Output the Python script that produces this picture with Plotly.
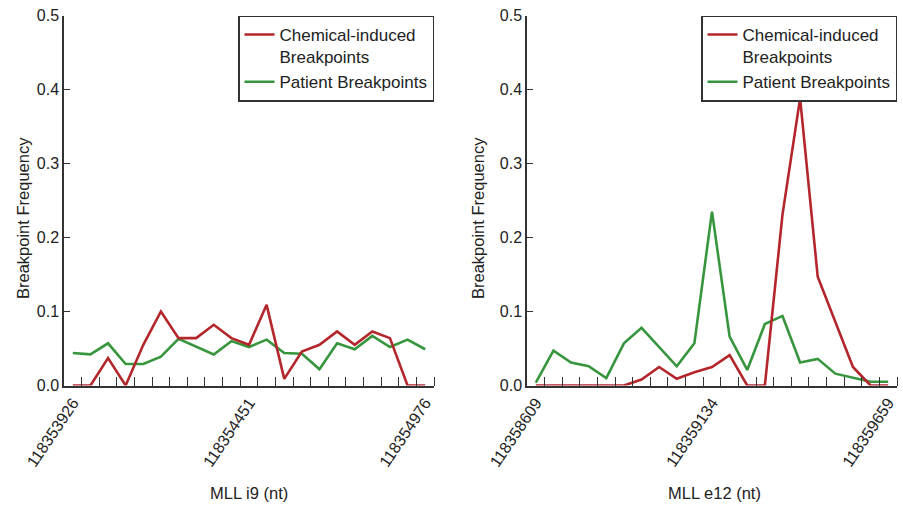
import plotly.graph_objects as go

# ---------------- data ----------------
bin_size = 52.5
n_bins = 21
i9_start = 118353926
e12_start = 118358609

i9_tick_labels = ["118353926", "118354451", "118354976"]
e12_tick_labels = ["118358609", "118359134", "118359659"]

i9_chemical = [0, 0, 0.037, 0, 0.055, 0.100, 0.064, 0.064, 0.082, 0.064, 0.055,
               0.109, 0.009, 0.046, 0.055, 0.073, 0.055, 0.073, 0.064, 0, 0]
i9_patient = [0.044, 0.042, 0.057, 0.029, 0.029, 0.039, 0.063, 0.052, 0.042, 0.060, 0.052,
              0.062, 0.044, 0.043, 0.022, 0.057, 0.049, 0.067, 0.052, 0.062, 0.049]
e12_chemical = [0, 0, 0, 0, 0, 0, 0.008, 0.025, 0.009, 0.018, 0.025,
                0.041, 0, 0, 0.231, 0.388, 0.147, 0.085, 0.025, 0, 0]
e12_patient = [0.004, 0.047, 0.031, 0.026, 0.010, 0.057, 0.078, 0.052, 0.026, 0.057, 0.235,
               0.066, 0.021, 0.083, 0.094, 0.031, 0.036, 0.016, 0.010, 0.005, 0.005]

y_ticks = [0.0, 0.1, 0.2, 0.3, 0.4, 0.5]

# ---------------- styles ----------------
RED = "#B3262C"
GREEN = "#37963D"
AXIS = "#333333"
TXT = "#222222"
FONT = "Liberation Sans, Arial, sans-serif"

W, H = 903, 508


def px_x(p):
    return p / W


def px_y(p):
    return 1 - p / H


i9_x = [i9_start + bin_size * i for i in range(n_bins)]
e12_x = [e12_start + bin_size * i for i in range(n_bins)]

fig = go.Figure()

panels = [
    (i9_x, i9_patient, i9_chemical, "x", "y", "legend"),
    (e12_x, e12_patient, e12_chemical, "x2", "y2", "legend2"),
]
for xs, pat, chem, xa, ya, lg in panels:
    fig.add_trace(go.Scatter(x=xs, y=pat, mode="lines", name="Patient Breakpoints",
                             line=dict(color=GREEN, width=2.6), xaxis=xa, yaxis=ya,
                             legend=lg, legendrank=2))
    fig.add_trace(go.Scatter(x=xs, y=chem, mode="lines", name="Chemical-induced<br>Breakpoints",
                             line=dict(color=RED, width=2.6), xaxis=xa, yaxis=ya,
                             legend=lg, legendrank=1))

ydom = [px_y(385.5), px_y(15.5)]
x1dom = [px_x(64), px_x(434)]
x2dom = [px_x(527), px_x(897)]


def xaxis_cfg(xs, labels, dom, anchor):
    edges = [v + bin_size / 2 for v in xs]
    return dict(
        domain=dom, anchor=anchor,
        range=[xs[0] - bin_size / 2, xs[-1] + bin_size / 2],
        tickmode="array", tickvals=[xs[0], xs[len(xs) // 2], xs[-1]], ticktext=labels,
        tickangle=-56, ticks="", showgrid=False, zeroline=False,
        showline=True, linecolor=AXIS, linewidth=1.5,
        tickfont=dict(family=FONT, size=16, color=TXT),
        minor=dict(tickmode="array", tickvals=edges, ticks="inside", ticklen=9,
                   tickwidth=1.2, tickcolor=AXIS, showgrid=False),
        automargin=False,
    )


def yaxis_cfg(anchor):
    return dict(
        domain=ydom, anchor=anchor, range=[0, 0.5],
        tickmode="array", tickvals=y_ticks, ticktext=[f"{v:.1f}" for v in y_ticks],
        ticks="inside", ticklen=6, tickwidth=1.2, tickcolor=AXIS,
        showgrid=False, zeroline=False, showline=True, linecolor=AXIS, linewidth=1.5,
        tickfont=dict(family=FONT, size=16, color=TXT), automargin=False,
    )


legend_common = dict(
    xanchor="right", yanchor="top", bgcolor="white",
    bordercolor=AXIS, borderwidth=1.5,
    font=dict(family=FONT, size=17, color=TXT),
    valign="top", tracegroupgap=0, itemwidth=30,
)

fig.update_layout(
    width=W, height=H,
    margin=dict(l=0, r=0, t=0, b=0),
    paper_bgcolor="white", plot_bgcolor="white",
    font=dict(family=FONT, color=TXT),
    xaxis=xaxis_cfg(i9_x, i9_tick_labels, x1dom, "y"),
    yaxis=yaxis_cfg("x"),
    xaxis2=xaxis_cfg(e12_x, e12_tick_labels, x2dom, "y2"),
    yaxis2=yaxis_cfg("x2"),
    legend=dict(x=px_x(434), y=px_y(15.5), **legend_common),
    legend2=dict(x=px_x(897), y=px_y(15.5), **legend_common),
    showlegend=True,
)

annos = [
    dict(text="Breakpoint Frequency", x=px_x(23), y=px_y(218), textangle=-90),
    dict(text="Breakpoint Frequency", x=px_x(478), y=px_y(218), textangle=-90),
    dict(text="MLL i9 (nt)", x=px_x(249), y=px_y(493)),
    dict(text="MLL e12 (nt)", x=px_x(714), y=px_y(493)),
]
for a in annos:
    fig.add_annotation(xref="paper", yref="paper", showarrow=False,
                       xanchor="center", yanchor="middle",
                       font=dict(family=FONT, size=16.5, color=TXT), **a)

fig.write_html("out.html")
